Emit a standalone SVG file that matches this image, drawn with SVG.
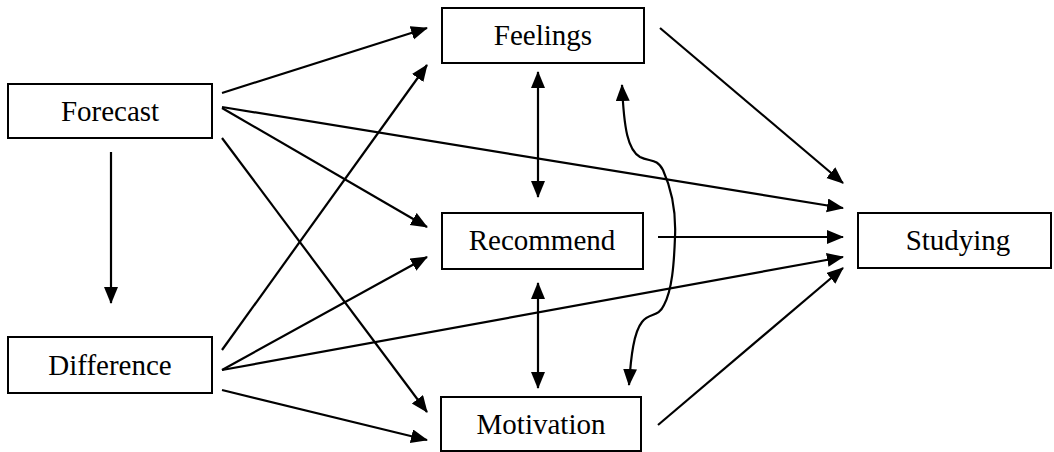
<svg xmlns="http://www.w3.org/2000/svg" width="1054" height="452" viewBox="0 0 1054 452">
<defs>
<style>
.box{fill:#fff;stroke:#000;stroke-width:2}
.lbl{font-family:"Liberation Serif","Times New Roman",serif;font-size:29px;fill:#000;text-anchor:middle}
.c{fill:none;stroke:#000;stroke-width:2.2}
</style>
<marker id="ah" markerUnits="userSpaceOnUse" markerWidth="18" markerHeight="16" refX="16" refY="7" orient="auto-start-reverse">
<path d="M0,0 L17,7 L0,14 z" fill="#000"/>
</marker>
</defs>
<rect width="1054" height="452" fill="#fff"/>
<g id="connectors">
<line class="c" x1="222" y1="93" x2="427" y2="28" marker-end="url(#ah)"/>
<line class="c" x1="222" y1="107" x2="843" y2="208" marker-end="url(#ah)"/>
<line class="c" x1="222" y1="108" x2="427" y2="227" marker-end="url(#ah)"/>
<line class="c" x1="222" y1="138" x2="427" y2="412" marker-end="url(#ah)"/>
<line class="c" x1="111" y1="152" x2="111" y2="303" marker-end="url(#ah)"/>
<line class="c" x1="222" y1="350" x2="427" y2="65" marker-end="url(#ah)"/>
<line class="c" x1="222" y1="370" x2="427" y2="257" marker-end="url(#ah)"/>
<line class="c" x1="222" y1="370" x2="843" y2="257" marker-end="url(#ah)"/>
<line class="c" x1="222" y1="390" x2="427" y2="440" marker-end="url(#ah)"/>
<line class="c" x1="660" y1="28" x2="843" y2="183" marker-end="url(#ah)"/>
<line class="c" x1="658" y1="237" x2="843" y2="237" marker-end="url(#ah)"/>
<line class="c" x1="658" y1="425" x2="843" y2="268" marker-end="url(#ah)"/>
<line class="c" x1="538" y1="72" x2="538" y2="197" marker-start="url(#ah)" marker-end="url(#ah)"/>
<line class="c" x1="538" y1="283" x2="538" y2="388" marker-start="url(#ah)" marker-end="url(#ah)"/>
<path class="c" d="M622,85 C624,130 628,150 640,157 C650,162 657,158 663,170 C672,190 676,215 675,237 C674,265 672,290 664,305 C658,318 650,312 642,322 C634,332 631,355 629,385" marker-start="url(#ah)" marker-end="url(#ah)"/>
</g>
<g id="forecast"><rect class="box" x="8" y="84" width="204" height="54"/><text class="lbl" x="110" y="120.5">Forecast</text></g>
<g id="difference"><rect class="box" x="8" y="337" width="204" height="56"/><text class="lbl" x="110" y="375">Difference</text></g>
<g id="feelings"><rect class="box" x="442" y="8" width="202" height="55"/><text class="lbl" x="543" y="45">Feelings</text></g>
<g id="recommend"><rect class="box" x="442" y="213" width="201" height="56"/><text class="lbl" x="542" y="250">Recommend</text></g>
<g id="motivation"><rect class="box" x="441" y="397" width="200" height="54"/><text class="lbl" x="541" y="434">Motivation</text></g>
<g id="studying"><rect class="box" x="858" y="213" width="193" height="55"/><text class="lbl" x="958" y="250">Studying</text></g>
</svg>
